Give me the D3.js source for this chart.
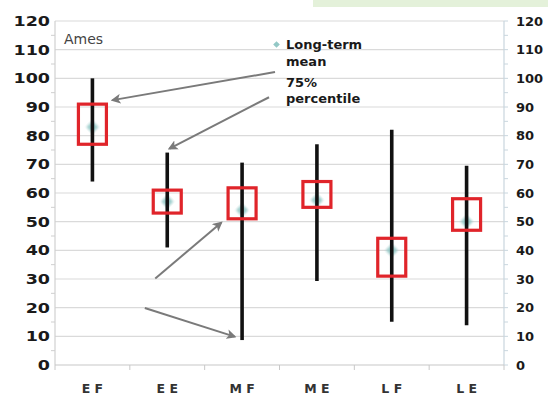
<!DOCTYPE html>
<html><head><meta charset="utf-8">
<script src="https://cdn.jsdelivr.net/npm/d3@7"></script>
<style>body{margin:0;background:#fff}svg{display:block}</style>
</head><body><svg id="c" width="548" height="401"></svg>
<script>
const categories = ["EF","EE","MF","ME","LF","LE"];
const whiskerLow  = [64, 41, 8.7, 29.3, 15.1, 13.9];
const whiskerHigh = [100, 74.1, 70.6, 77, 82.1, 69.5];
const boxLow  = [77, 53, 51, 55, 31, 47];
const boxHigh = [91, 61, 61.8, 64, 44.2, 58];
const means   = [83, 57, 54, 57.5, 40, 50];
const yTicks = [0,10,20,30,40,50,60,70,80,90,100,110,120];
const minorTicks = d3.range(5,120,10);
const legendLabels = [["Long-term","mean"],["75%","percentile"]];
// annotation arrows in data space: [xIndex, value] -> [xIndex, value]
const arrows = [
  [[2.44,102.2],[0.27,92.4]],
  [[2.36,93.4],[1.03,75.5]],
  [[0.84,30.2],[1.72,49.6]],
  [[0.70,19.9],[1.90,9.9]]
];

const svg = d3.select("#c");
const L=55, R=504, T=21, B=365;
svg.append("rect").attr("x",313).attr("y",0).attr("width",235).attr("height",7).attr("fill","#e4f1da");

const defs = svg.append("defs");
defs.append("filter").attr("id","blur").append("feGaussianBlur").attr("stdDeviation",0.9);

const x = d3.scaleBand().domain(categories).range([L,R]).padding(0);
const xi = d3.scaleLinear().domain([-0.5,5.5]).range([L,R]);
const y = d3.scaleLinear().domain([0,120]).range([B,T]);

// gridlines
svg.append("g").selectAll("line").data(yTicks.slice(1)).join("line")
  .attr("x1",L).attr("x2",R).attr("y1",d=>y(d)).attr("y2",d=>y(d))
  .attr("stroke","#dadada").attr("stroke-width",1.2);

// left axis
const gl = svg.append("g").attr("transform",`translate(${L},0)`);
gl.append("line").attr("y1",T).attr("y2",B).attr("stroke","#d0d0d0").attr("stroke-width",1.2);
gl.selectAll(".mt").data(minorTicks).join("line").attr("x1",-4).attr("x2",0)
  .attr("y1",d=>y(d)).attr("y2",d=>y(d)).attr("stroke","#cfcfcf");
gl.selectAll("text").data(yTicks).join("text")
  .attr("transform",d=>`translate(-5,${y(d)}) scale(1.25,1)`)
  .attr("text-anchor","end").attr("dy","0.36em")
  .attr("font-family","DejaVu Sans").attr("font-weight","bold").attr("font-size",14)
  .attr("fill","#1a1a1a").text(d=>d);

// right axis
const gr = svg.append("g").attr("transform",`translate(${R},0)`);
gr.append("line").attr("y1",T).attr("y2",B).attr("stroke","#c9d6de").attr("stroke-width",1.2);
gr.selectAll(".mt").data(d3.range(0,121,5)).join("line").attr("x1",0).attr("x2",4)
  .attr("y1",d=>y(d)).attr("y2",d=>y(d)).attr("stroke","#c9d6de");
gr.selectAll("text").data(yTicks).join("text")
  .attr("x",12).attr("y",d=>y(d)).attr("dy","0.36em")
  .attr("font-family","DejaVu Sans").attr("font-weight","bold").attr("font-size",13)
  .attr("fill","#1a1a1a").text(d=>d);

// bottom axis
const gb = svg.append("g");
gb.append("line").attr("x1",L).attr("x2",R).attr("y1",B).attr("y2",B).attr("stroke","#c8c8c8").attr("stroke-width",1.2);
gb.selectAll(".bt").data(d3.range(0,7)).join("line")
  .attr("x1",i=>xi(i-0.5)).attr("x2",i=>xi(i-0.5)).attr("y1",B).attr("y2",B+5).attr("stroke","#c8c8c8");
gb.selectAll("text").data(categories).join("text")
  .attr("x",d=>x(d)+x.bandwidth()/2).attr("y",393).attr("text-anchor","middle")
  .attr("font-family","DejaVu Sans").attr("font-weight","bold").attr("font-size",12.5)
  .attr("fill","#333").text(d=>d.split("").join(" "));

// Ames
svg.append("text").attr("x",64).attr("y",44).attr("font-family","DejaVu Sans").attr("font-size",14)
  .attr("fill","#444").text("Ames");

const cx = d=>x(d)+x.bandwidth()/2;
// means
svg.append("g").selectAll("path").data(categories).join("path")
  .attr("transform",(d,i)=>`translate(${cx(d)},${y(means[i])}) rotate(45)`)
  .attr("d",d3.symbol(d3.symbolSquare,75))
  .attr("fill","#93c8c6").attr("opacity",0.9).attr("filter","url(#blur)");
// whiskers
svg.append("g").selectAll("line").data(categories).join("line")
  .attr("x1",cx).attr("x2",cx)
  .attr("y1",(d,i)=>y(whiskerHigh[i])).attr("y2",(d,i)=>y(whiskerLow[i]))
  .attr("stroke","#111").attr("stroke-width",3.6);
// boxes
svg.append("g").selectAll("rect").data(categories).join("rect")
  .attr("x",d=>cx(d)-14).attr("width",28)
  .attr("y",(d,i)=>y(boxHigh[i])).attr("height",(d,i)=>y(boxLow[i])-y(boxHigh[i]))
  .attr("fill","none").attr("stroke","#e0242a").attr("stroke-width",3.2);

// arrows
defs.append("marker").attr("id","ah").attr("viewBox","0 0 10 10").attr("refX",8).attr("refY",5)
  .attr("markerWidth",5).attr("markerHeight",5).attr("orient","auto")
  .append("path").attr("d","M0,0L10,5L0,10L2.5,5Z").attr("fill","#7a7a7a");
svg.append("g").selectAll("line").data(arrows).join("line")
  .attr("x1",d=>xi(d[0][0])).attr("y1",d=>y(d[0][1]))
  .attr("x2",d=>xi(d[1][0])).attr("y2",d=>y(d[1][1]))
  .attr("stroke","#7a7a7a").attr("stroke-width",2).attr("marker-end","url(#ah)");

// legend
const lg = svg.append("g");
lg.append("path").attr("transform",`translate(${xi(2.46)},${y(111.8)}) rotate(45)`)
  .attr("d",d3.symbol(d3.symbolSquare,22)).attr("fill","#93c8c6");
const lineYs = [[49,66],[87,103]];
legendLabels.forEach((lab,k)=>{
  lab.forEach((t,j)=>{
    lg.append("text").attr("x",286).attr("y",lineYs[k][j])
      .attr("font-family","DejaVu Sans").attr("font-weight","bold").attr("font-size",13)
      .attr("fill","#1a1a1a").text(t);
  });
});
</script></body></html>
